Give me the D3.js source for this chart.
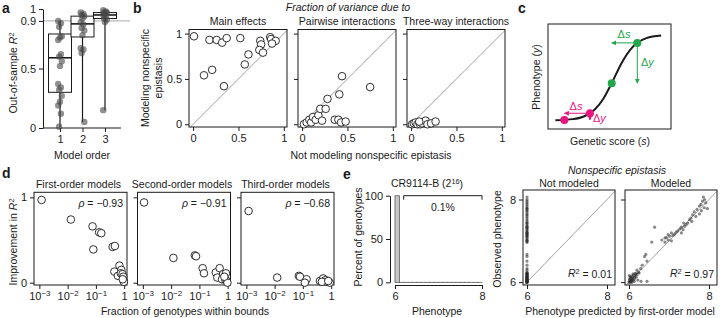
<!DOCTYPE html>
<html>
<head>
<meta charset="utf-8">
<script src="https://cdn.jsdelivr.net/npm/d3@7"></script>
<style>
  body { margin: 0; background: #fff; }
  svg { display: block; }
  svg text { font-family: "Liberation Sans", Arial, sans-serif; fill: #1a1a1a; }
  .tick text { font-size: 11px; font-family: "Liberation Sans", Arial, sans-serif; fill: #1a1a1a; }
  .tick line { stroke: #1a1a1a; }
</style>
</head>
<body>
<svg id="fig" width="720" height="318"></svg>
<script>
// ---------- data ----------

// a: out-of-sample R2 per model order
const modelOrders = [1, 2, 3];
const r2Order1 = [0.90, 0.88, 0.85, 0.77, 0.76, 0.74, 0.62, 0.60, 0.56, 0.52, 0.37, 0.34, 0.32, 0.27, 0.22, 0.19, 0.12, 0.01];
const r2Order2 = [0.97, 0.96, 0.95, 0.94, 0.92, 0.89, 0.87, 0.84, 0.82, 0.78, 0.67, 0.66, 0.63, 0.05];
const r2Order3 = [0.99, 0.98, 0.97, 0.97, 0.96, 0.95, 0.94, 0.92, 0.91, 0.89, 0.15];
const boxQ1 = [0.30, 0.765, 0.92];
const boxMedian = [0.59, 0.875, 0.95];
const boxQ3 = [0.79, 0.94, 0.97];
const r2Ticks = [0, 0.5, 0.9, 1];

// b: fraction of variance [not modeling, modeling] nonspecific epistasis
const bTitles = ["Main effects", "Pairwise interactions", "Three-way interactions"];
const mainEffects = [[0.01,0.97],[0.18,0.93],[0.26,0.93],[0.32,0.90],[0.37,0.95],[0.52,0.95],[0.74,0.92],[0.75,0.88],
  [0.85,0.96],[0.86,0.94],[0.91,0.92],[0.87,0.89],[0.73,0.82],[0.77,0.79],[0.61,0.77],[0.57,0.66],[0.21,0.60],[0.12,0.54],[0.34,0.42]];
const pairwise = [[0.02,0.00],[0.05,0.02],[0.08,0.05],[0.10,0.02],[0.12,0.08],[0.15,0.05],[0.18,0.10],[0.20,0.17],[0.22,0.04],
  [0.26,0.17],[0.28,0.28],[0.36,0.05],[0.40,0.05],[0.43,0.02],[0.48,0.03],[0.41,0.33],[0.44,0.53],[0.75,0.41]];
const threeWay = [[0.01,0.00],[0.03,0.01],[0.05,0.02],[0.07,0.00],[0.09,0.02],[0.10,0.00],[0.12,0.01],[0.16,0.04],
  [0.18,0.00],[0.22,0.01],[0.27,0.03],[0.09,0.03]];
const fracTicks = [0, 0.5, 1];

// c: schematic sigmoid
const curveScore = [0.6, 2, 3, 3.8, 4.5, 5.2, 6, 6.8, 7.3, 8, 9.2];
const curvePhenotype = [0.083, 0.094, 0.124, 0.185, 0.288, 0.441, 0.632, 0.771, 0.824, 0.866, 0.891];
const magentaScore = [1.33, 3.41];
const magentaPhenotype = [0.086, 0.15];
const greenScore = [5.18, 7.26];
const greenPhenotype = [0.436, 0.82];

// d: improvement in R2 vs fraction of genotypes within bounds
const dTitles = ["First-order models", "Second-order models", "Third-order models"];
const dRho = ["−0.93", "−0.91", "−0.68"];
const firstOrder = [[0.0012,0.97],[0.013,0.74],[0.076,0.66],[0.13,0.59],[0.155,0.58],[0.081,0.39],[0.39,0.42],[0.47,0.43],
  [0.68,0.20],[0.79,0.15],[0.45,0.13],[0.60,0.08],[0.76,0.11],[0.87,0.10],[0.93,0.07],[0.95,0.03],[0.98,0.01],[0.89,0.04]];
const secondOrder = [[0.0011,0.94],[0.012,0.29],[0.069,0.32],[0.076,0.31],[0.13,0.17],[0.145,0.11],[0.38,0.12],[0.52,0.17],
  [0.43,0.06],[0.69,0.10],[0.87,0.11],[0.63,0.04],[0.83,0.03],[0.93,0.02],[0.98,0.00],[0.76,0.07]];
const thirdOrder = [[0.0012,0.84],[0.0123,0.06],[0.072,0.08],[0.079,0.07],[0.135,0.04],[0.117,0.00],[0.40,0.02],[0.52,0.05],
  [0.63,0.03],[0.71,0.01],[0.89,0.00],[0.47,0.01],[0.79,0.02]];
const logTicks = [1e-3, 1e-2, 1e-1, 1];

// e: histogram of phenotypes, CR9114-B
const binStart = [6.0, 6.1, 6.2, 6.3, 6.4, 6.5, 6.6, 6.7, 6.8, 6.9, 7.0, 7.1, 7.2, 7.3, 7.4, 7.5, 7.6, 7.7, 7.8, 7.9];
const binPercent = [99.9, 0.01, 0.005, 0.004, 0.004, 0.003, 0.003, 0.004, 0.005, 0.006, 0.007, 0.008, 0.008, 0.008, 0.007, 0.007, 0.006, 0.005, 0.004, 0.003];
const tailRange = [6.2, 8];

// e: observed vs predicted phenotype (shared observed values)
const observed = [8.06,8.00,7.96,7.92,7.88,7.84,7.80,7.78,7.76,7.73,7.70,7.65,7.63,7.59,7.55,7.51,7.47,7.43,7.39,7.43,7.35,7.33,7.27,
  7.29,7.24,7.21,7.19,7.16,7.13,7.19,7.11,7.15,7.08,7.07,7.02,7.00,6.97,7.02,7.33,6.97,6.67,6.62,6.51,6.41,6.33,6.29,6.24,6.21,6.02,
  6.00,5.99,6.02,6.01,6.05,6.06,6.03,6.08,6.04,6.10,6.07,6.12,6.13,6.10,6.15,6.17,6.12,6.08,6.14,6.02,6.18,6.20,6.05,6.16,5.99,6.22,6.02,6.20];
const predictedModeled = [7.86,7.89,7.84,7.92,7.80,7.76,7.88,7.96,7.70,7.81,7.63,7.76,7.59,7.67,7.55,7.51,7.57,7.47,7.43,7.37,7.39,7.31,7.35,
  7.27,7.22,7.18,7.31,7.14,7.10,7.06,7.02,6.98,6.94,6.90,6.98,7.06,6.90,6.82,6.64,6.57,6.42,6.39,6.45,6.33,6.29,6.20,6.24,6.16,6.45,
  6.00,6.02,6.03,6.05,6.01,6.04,6.07,6.08,6.10,6.06,6.12,6.03,6.09,6.14,6.15,6.11,6.18,6.02,6.05,6.13,6.20,6.17,6.22,6.01,6.07,6.25,6.30,6.10];
const predictedNotModeled = 6.0;
const rSquared = ["0.01", "0.97"];
const phenTicks = [6, 8];

// ---------- drawing ----------
const svg = d3.select("#fig");
const ink = "#1a1a1a";

function panelLetter(x, y, t) {
  svg.append("text").attr("x", x).attr("y", y).attr("font-size", 14).attr("font-weight", "bold").text(t);
}
function txt(x, y, t, size, anchor, rot) {
  const el = svg.append("text").attr("font-size", size || 10.5).attr("text-anchor", anchor || "middle");
  if (rot) el.attr("transform", `translate(${x},${y}) rotate(-90)`);
  else el.attr("x", x).attr("y", y);
  el.text(t);
  return el;
}
function r2Label(el, prefix, suffix) {
  el.text(prefix);
  el.append("tspan").attr("font-style", "italic").text("R");
  el.append("tspan").attr("dy", "-0.4em").attr("font-size", "0.7em").text("2");
  if (suffix) el.append("tspan").attr("dy", "0.4em").text(suffix);
}
function frame(x, y, w, h) {
  svg.append("rect").attr("x", x).attr("y", y).attr("width", w).attr("height", h)
    .attr("fill", "none").attr("stroke", ink).attr("stroke-width", 1);
}

// ----- a -----
panelLetter(2, 13, "a");
const ya = d3.scaleLinear().domain([0, 1]).range([128, 9]);
const xa = d3.scaleLinear().domain([1, 3]).range([60, 105]);
svg.append("line").attr("x1", 43).attr("x2", 130).attr("y1", ya(0.9)).attr("y2", ya(0.9))
  .attr("stroke", "#aaa").attr("stroke-width", 1);
svg.append("g").attr("transform", "translate(43,0)")
  .call(d3.axisLeft(ya).tickValues(r2Ticks).tickSize(4).tickSizeOuter(0).tickFormat(d => d))
  .call(g => g.select(".domain").attr("stroke", ink));
svg.append("g").attr("transform", "translate(0,128)")
  .call(d3.axisBottom(xa).tickValues(modelOrders).tickSize(4).tickFormat(d => d))
  .call(g => g.select(".domain").remove());
svg.append("line").attr("x1", 43).attr("x2", 121).attr("y1", 128).attr("y2", 128).attr("stroke", ink);

const r2Sets = [r2Order1, r2Order2, r2Order3];
const boxW = 23;
modelOrders.forEach((o, i) => {
  const cx = xa(o);
  const vals = r2Sets[i];
  svg.append("line").attr("x1", cx).attr("x2", cx).attr("y1", ya(d3.min(vals))).attr("y2", ya(d3.max(vals)))
    .attr("stroke", ink).attr("stroke-width", 1.2);
  svg.append("rect").attr("x", cx - boxW / 2).attr("width", boxW)
    .attr("y", ya(boxQ3[i])).attr("height", ya(boxQ1[i]) - ya(boxQ3[i]))
    .attr("fill", "#fff").attr("stroke", ink).attr("stroke-width", 1);
  svg.append("line").attr("x1", cx - boxW / 2).attr("x2", cx + boxW / 2)
    .attr("y1", ya(boxMedian[i])).attr("y2", ya(boxMedian[i])).attr("stroke", ink).attr("stroke-width", 1.6);
  svg.append("g").selectAll("circle").data(vals).join("circle")
    .attr("cx", (d, j) => cx + ((j * 3) % 5 - 2) * 0.9)
    .attr("cy", d => ya(d)).attr("r", 3.2)
    .attr("fill", "rgba(70,70,70,0.6)");
});
r2Label(txt(17, 73, "", 10.5, "middle", true), "Out-of-sample ");
txt(82, 159, "Model order");

// ----- b -----
panelLetter(133, 13, "b");
const bX = [189, 298, 407], bW = 98, bTop = 29.5, bH = 97.5;
const xb = d3.scaleLinear().domain([-0.045, 1.035]).range([0, bW]);
const yb = d3.scaleLinear().domain([-0.03, 1.045]).range([bTop + bH, bTop]);
txt(348, 11, "Fraction of variance due to").attr("font-style", "italic");
[mainEffects, pairwise, threeWay].forEach((pts, i) => {
  const x0 = bX[i];
  const g = svg.append("g");
  txt(x0 + bW / 2, 25, bTitles[i]);
  g.append("line").attr("x1", x0 + xb(-0.03)).attr("y1", yb(-0.03)).attr("x2", x0 + xb(1.035)).attr("y2", yb(1.035))
    .attr("stroke", "#888").attr("stroke-width", 0.8);
  frame(x0, bTop, bW, bH);
  svg.append("g").attr("transform", `translate(${x0},${bTop + bH})`)
    .call(d3.axisBottom(xb).tickValues(fracTicks).tickSize(4).tickFormat(d => d))
    .call(a => a.select(".domain").remove());
  svg.append("g").attr("transform", `translate(${x0},0)`)
    .call(d3.axisLeft(yb).tickValues(fracTicks).tickSize(4).tickFormat(d => i === 0 ? d : ""))
    .call(a => a.select(".domain").remove());
  svg.append("g").selectAll("circle").data(pts).join("circle")
    .attr("cx", d => x0 + xb(d[0])).attr("cy", d => yb(d[1])).attr("r", 3.8)
    .attr("fill", "#fff").attr("stroke", ink).attr("stroke-width", 0.9);
});
txt(149, 78, "Modeling nonspecific", 10.5, "middle", true);
txt(162, 78, "epistasis", 10.5, "middle", true);
txt(371, 159, "Not modeling nonspecific epistasis");

// ----- c -----
panelLetter(518, 13, "c");
const cx0 = 548, cy0 = 24, cW = 123, cH = 105;
const xc = d3.scaleLinear().domain([0, 10]).range([cx0, cx0 + cW]);
const yc = d3.scaleLinear().domain([0, 1]).range([cy0 + cH, cy0]);
frame(cx0, cy0, cW, cH);
svg.append("path").datum(d3.zip(curveScore, curvePhenotype))
  .attr("d", d3.line().x(d => xc(d[0])).y(d => yc(d[1])).curve(d3.curveMonotoneX))
  .attr("fill", "none").attr("stroke", ink).attr("stroke-width", 2);
const green = "#22a64a", magenta = "#e6157f";
const defs = svg.append("defs");
[["gArr", green], ["mArr", magenta]].forEach(([id, col]) => {
  defs.append("marker").attr("id", id).attr("viewBox", "0 0 10 10").attr("refX", 9).attr("refY", 5)
    .attr("markerWidth", 5).attr("markerHeight", 5).attr("orient", "auto-start-reverse")
    .append("path").attr("d", "M0,0 L10,5 L0,10 z").attr("fill", col);
});
function deltaArrows(sArr, pArr, col, mid, lblS, lblY) {
  const xHi = xc(sArr[1]), yHi = yc(pArr[1]);
  svg.append("line").attr("x1", xHi).attr("y1", yHi).attr("x2", xc(sArr[0])).attr("y2", yHi)
    .attr("stroke", col).attr("stroke-width", 1).attr("marker-end", `url(#${mid})`);
  svg.append("line").attr("x1", xHi).attr("y1", yHi).attr("x2", xHi).attr("y2", yc(pArr[0]))
    .attr("stroke", col).attr("stroke-width", 1).attr("marker-end", `url(#${mid})`);
  svg.append("g").selectAll("circle").data(d3.range(sArr.length)).join("circle")
    .attr("cx", k => xc(sArr[k])).attr("cy", k => yc(pArr[k])).attr("r", 4).attr("fill", col);
  const ds = svg.append("text").attr("x", lblS[0]).attr("y", lblS[1]).attr("font-size", 11).attr("text-anchor", "middle").style("fill", col);
  ds.text("Δ"); ds.append("tspan").attr("font-style", "italic").text("s");
  const dy = svg.append("text").attr("x", lblY[0]).attr("y", lblY[1]).attr("font-size", 11).attr("text-anchor", "start").style("fill", col);
  dy.text("Δ"); dy.append("tspan").attr("font-style", "italic").text("y");
}
deltaArrows(greenScore, greenPhenotype, green, "gArr", [624, 38], [641, 66]);
deltaArrows(magentaScore, magentaPhenotype, magenta, "mArr", [576, 110], [593, 122]);
const pl = txt(540, 77, "Phenotype (", 10.5, "middle", true);
pl.append("tspan").attr("font-style", "italic").text("y"); pl.append("tspan").text(")");
const gl = txt(610, 145, "Genetic score (");
gl.append("tspan").attr("font-style", "italic").text("s"); gl.append("tspan").text(")");

// ----- d -----
panelLetter(2, 178, "d");
const dX = [34, 137.5, 241], dW = 93, dTop = 192.3, dH = 92.7;
const xd = d3.scaleLog().domain([Math.pow(10, -3.19), Math.pow(10, 0.1)]).range([0, dW]);
const yd = d3.scaleLinear().domain([-0.027, 1.059]).range([dTop + dH, dTop]);
[firstOrder, secondOrder, thirdOrder].forEach((pts, i) => {
  const x0 = dX[i];
  txt(x0 + dW / 2 - 2, 188, dTitles[i]);
  frame(x0, dTop, dW, dH);
  svg.append("g").attr("transform", `translate(${x0},${dTop + dH})`)
    .call(d3.axisBottom(xd).tickValues(logTicks).tickSize(4).tickFormat(() => ""))
    .call(a => a.select(".domain").remove())
    .call(a => a.selectAll(".tick text").each(function (d) {
      const t = d3.select(this);
      if (d === 1) { t.text("1"); return; }
      t.append("tspan").text("10");
      t.append("tspan").attr("dy", "-0.45em").attr("font-size", "0.72em").text("−" + Math.round(-Math.log10(d)));
    }));
  svg.append("g").attr("transform", `translate(${x0},0)`)
    .call(d3.axisLeft(yd).tickValues([0, 1]).tickSize(4).tickFormat(d => i === 0 ? d : ""))
    .call(a => a.select(".domain").remove());
  svg.append("g").selectAll("circle").data(pts).join("circle")
    .attr("cx", d => x0 + xd(d[0])).attr("cy", d => yd(d[1])).attr("r", 3.8)
    .attr("fill", "#fff").attr("stroke", ink).attr("stroke-width", 0.9);
  const rl = svg.append("text").attr("x", x0 + dW - 4).attr("y", 207).attr("font-size", 10.5).attr("text-anchor", "end");
  rl.append("tspan").attr("font-style", "italic").text("ρ");
  rl.append("tspan").text(" = " + dRho[i]);
});
r2Label(txt(17, 242, "", 10.5, "middle", true), "Improvement in ");
txt(185, 315, "Fraction of genotypes within bounds");

// ----- e histogram -----
panelLetter(343, 179, "e");
const xh = d3.scaleLinear().domain([6, 8]).range([395, 482]);
const yh = d3.scaleLinear().domain([0, 100]).range([282.3, 195.7]);
const tl = txt(427, 187, "CR9114-B (2");
tl.append("tspan").attr("dy", "-0.45em").attr("font-size", "0.7em").text("16");
tl.append("tspan").attr("dy", "0.45em").text(")");
svg.append("g").selectAll("rect").data(d3.zip(binStart, binPercent)).join("rect")
  .attr("x", d => xh(d[0])).attr("width", d => xh(d[0] + 0.1) - xh(d[0]))
  .attr("y", d => yh(d[1])).attr("height", d => yh(0) - yh(d[1]))
  .attr("fill", "#c8c8c8").attr("stroke", "#555").attr("stroke-width", 0.8);
svg.append("g").attr("transform", "translate(390,0)")
  .call(d3.axisLeft(yh).tickValues([0, 50, 100]).tickSize(4).tickSizeOuter(0))
  .call(a => a.select(".domain").attr("stroke", ink));
svg.append("g").attr("transform", "translate(0,285)")
  .call(d3.axisBottom(xh).tickValues(phenTicks).tickSize(4).tickSizeOuter(0).tickFormat(d => d))
  .call(a => a.select(".domain").attr("stroke", ink));
svg.append("path")
  .attr("d", `M${xh(tailRange[0])},${yh(100) + 4}V${yh(100)}H${xh(tailRange[1])}V${yh(100) + 4}`)
  .attr("fill", "none").attr("stroke", ink).attr("stroke-width", 1);
txt((xh(tailRange[0]) + xh(tailRange[1])) / 2, 211, "0.1%");
txt(362, 237, "Percent of genotypes", 10.5, "middle", true);
txt(437, 315, "Phenotype");

// ----- e scatter -----
const eX = [523, 625], eW = 92, eTop = 190, eH = 95;
const xe = d3.scaleLinear().domain([5.9, 8.2]).range([0, eW]);
const ye = d3.scaleLinear().domain([5.93, 8.23]).range([eTop + eH, eTop]);
txt(617, 174, "Nonspecific epistasis").attr("font-style", "italic");
const ePred = [observed.map(() => predictedNotModeled), predictedModeled];
["Not modeled", "Modeled"].forEach((title, i) => {
  const x0 = eX[i];
  txt(x0 + eW / 2, 187, title);
  svg.append("line").attr("x1", x0 + xe(5.93)).attr("y1", ye(5.93)).attr("x2", x0 + xe(8.2)).attr("y2", ye(8.2))
    .attr("stroke", "#888").attr("stroke-width", 0.8);
  frame(x0, eTop, eW, eH);
  svg.append("g").attr("transform", `translate(${x0},${eTop + eH})`)
    .call(d3.axisBottom(xe).tickValues(phenTicks).tickSize(4).tickFormat(d => d))
    .call(a => a.select(".domain").remove());
  svg.append("g").attr("transform", `translate(${x0},0)`)
    .call(d3.axisLeft(ye).tickValues(phenTicks).tickSize(4).tickFormat(d => i === 0 ? d : ""))
    .call(a => a.select(".domain").remove());
  svg.append("g").selectAll("circle").data(d3.zip(ePred[i], observed)).join("circle")
    .attr("cx", d => x0 + xe(d[0])).attr("cy", d => ye(d[1])).attr("r", 1.6)
    .attr("fill", "rgba(40,40,40,0.55)");
  r2Label(svg.append("text").attr("x", x0 + eW - 3).attr("y", 277).attr("font-size", 10.5).attr("text-anchor", "end"), "", " = " + rSquared[i]);
});
txt(501, 239, "Observed phenotype", 10.5, "middle", true);
txt(620, 315, "Phenotype predicted by first-order model");
</script>
</body>
</html>
